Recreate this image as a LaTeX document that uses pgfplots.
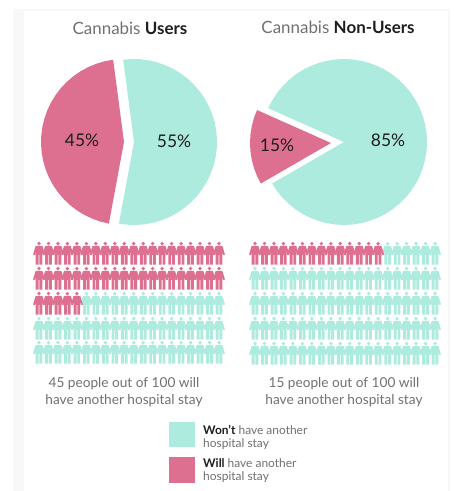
\documentclass[border=0pt]{standalone}
\usepackage{fontspec}
\setmainfont{Lato}
\usepackage{pgfplots}
\pgfplotsset{compat=1.18}
\definecolor{wont}{HTML}{AEEBDF}
\definecolor{will}{HTML}{DD7090}
\definecolor{caption}{HTML}{707070}
\definecolor{strong}{HTML}{1E1E1E}
\definecolor{edge}{HTML}{F8F8F8}

% Pictogram person: head, shoulders, arms and legs, about 12 by 23 units
\pgfdeclareplotmark{person}{%
  \pgfpathcircle{\pgfqpoint{0bp}{9.4bp}}{1.9bp}%
  \pgfpathmoveto{\pgfqpoint{-3.4bp}{7bp}}%
  \pgfpathlineto{\pgfqpoint{3.4bp}{7bp}}%
  \pgfpathlineto{\pgfqpoint{6bp}{-1.6bp}}%
  \pgfpathlineto{\pgfqpoint{4.2bp}{-2.1bp}}%
  \pgfpathlineto{\pgfqpoint{3.3bp}{1.5bp}}%
  \pgfpathlineto{\pgfqpoint{3.3bp}{-11.6bp}}%
  \pgfpathlineto{\pgfqpoint{0.4bp}{-11.6bp}}%
  \pgfpathlineto{\pgfqpoint{0.4bp}{-2bp}}%
  \pgfpathlineto{\pgfqpoint{-0.4bp}{-2bp}}%
  \pgfpathlineto{\pgfqpoint{-0.4bp}{-11.6bp}}%
  \pgfpathlineto{\pgfqpoint{-3.3bp}{-11.6bp}}%
  \pgfpathlineto{\pgfqpoint{-3.3bp}{1.5bp}}%
  \pgfpathlineto{\pgfqpoint{-4.2bp}{-2.1bp}}%
  \pgfpathlineto{\pgfqpoint{-6bp}{-1.6bp}}%
  \pgfpathclose
  \pgfusepathqfill
}
\pgfplotsset{
  people/.style={only marks, mark=person, color=#1, mark options={draw=none, fill=#1}},
  wedge/.style={fill=#1, draw=none, mark=none, data cs=polar},
}

\begin{document}
\begin{tikzpicture}
\begin{axis}[
  width=454bp, height=491bp, scale only axis,
  xmin=0, xmax=454, ymin=0, ymax=491,
  hide axis, clip=false,
]
% faint page edges
\addplot[fill=edge, draw=none, mark=none] coordinates {(13,0)(24,0)(24,481)(13,481)} --cycle;
\addplot[fill=edge, draw=none, mark=none] coordinates {(13,480)(449,480)(449,482)(13,482)} --cycle;
\addplot[fill=edge, draw=none, mark=none] coordinates {(448,0)(450,0)(450,482)(448,482)} --cycle;

% Cannabis users: 45 / 55, angle and radius about each wedge's own apex
\addplot[wedge=will, xshift=124bp, yshift=349bp] coordinates {
 (0,0)(97.5,83)(103.5,83)(109.5,83)(115.5,83)(121.5,83)(127.5,83)(133.5,83)(139.5,83)(145.5,83)
 (151.5,83)(157.5,83)(163.5,83)(169.5,83)(175.5,83)(181.5,83)(187.5,83)(193.5,83)(199.5,83)
 (205.5,83)(211.5,83)(217.5,83)(223.5,83)(229.5,83)(235.5,83)(241.5,83)(247.5,83)(253.5,83)(259.5,83)
} --cycle;
\addplot[wedge=wont, xshift=134bp, yshift=349bp] coordinates {
 (0,0)(-100.5,83)(-94.5,83)(-88.5,83)(-82.5,83)(-76.5,83)(-70.5,83)(-64.5,83)(-58.5,83)(-52.5,83)
 (-46.5,83)(-40.5,83)(-34.5,83)(-28.5,83)(-22.5,83)(-16.5,83)(-10.5,83)(-4.5,83)(1.5,83)(7.5,83)
 (13.5,83)(19.5,83)(25.5,83)(31.5,83)(37.5,83)(43.5,83)(49.5,83)(55.5,83)(61.5,83)(67.5,83)
 (73.5,83)(79.5,83)(85.5,83)(91.5,83)(97.5,83)
} --cycle;

% Cannabis non-users: 15 / 85
\addplot[wedge=will, xshift=331bp, yshift=348bp] coordinates {
 (0,0)(156,81)(162,81)(168,81)(174,81)(180,81)(186,81)(192,81)(198,81)(204,81)(210,81)
} --cycle;
\addplot[wedge=wont, xshift=344bp, yshift=349bp] coordinates {
 (0,0)(210,83)(216,83)(222,83)(228,83)(234,83)(240,83)(246,83)(252,83)(258,83)(264,83)(270,83)
 (276,83)(282,83)(288,83)(294,83)(300,83)(306,83)(312,83)(318,83)(324,83)(330,83)(336,83)
 (342,83)(348,83)(354,83)(360,83)(366,83)(372,83)(378,83)(384,83)(390,83)(396,83)(402,83)
 (408,83)(414,83)(420,83)(426,83)(432,83)(438,83)(444,83)(450,83)(456,83)(462,83)(468,83)
 (474,83)(480,83)(486,83)(492,83)(498,83)(504,83)(510,83)(516,83)
} --cycle;

% Users pictogram: 45 will, 55 won't
\addplot[people=wont] coordinates {
 (86.4,188)(95.8,188)(105.3,188)(114.8,188)(124.2,188)(133.7,188)(143.2,188)(152.6,188)(162.1,188)(171.6,188)(181.1,188)(190.5,188)(200,188)(209.5,188)(219,188)
 (39,163)(48.5,163)(58,163)(67.4,163)(76.9,163)(86.4,163)(95.8,163)(105.3,163)(114.8,163)(124.2,163)(133.7,163)(143.2,163)(152.6,163)(162.1,163)(171.6,163)(181.1,163)(190.5,163)(200,163)(209.5,163)(219,163)
 (39,139)(48.5,139)(58,139)(67.4,139)(76.9,139)(86.4,139)(95.8,139)(105.3,139)(114.8,139)(124.2,139)(133.7,139)(143.2,139)(152.6,139)(162.1,139)(171.6,139)(181.1,139)(190.5,139)(200,139)(209.5,139)(219,139)
};
\addplot[people=will] coordinates {
 (39,238)(48.5,238)(58,238)(67.4,238)(76.9,238)(86.4,238)(95.8,238)(105.3,238)(114.8,238)(124.2,238)(133.7,238)(143.2,238)(152.6,238)(162.1,238)(171.6,238)(181.1,238)(190.5,238)(200,238)(209.5,238)(219,238)
 (39,213)(48.5,213)(58,213)(67.4,213)(76.9,213)(86.4,213)(95.8,213)(105.3,213)(114.8,213)(124.2,213)(133.7,213)(143.2,213)(152.6,213)(162.1,213)(171.6,213)(181.1,213)(190.5,213)(200,213)(209.5,213)(219,213)
 (39,188)(48.5,188)(58,188)(67.4,188)(76.9,188)
};

% Non-users pictogram
\addplot[people=wont] coordinates {
 (387.6,238)(397.1,238)(406.5,238)(416,238)(425.5,238)(435,238)
 (255,213)(264.5,213)(274,213)(283.4,213)(292.9,213)(302.4,213)(311.8,213)(321.3,213)(330.8,213)(340.2,213)(349.7,213)(359.2,213)(368.6,213)(378.1,213)(387.6,213)(397.1,213)(406.5,213)(416,213)(425.5,213)(435,213)
 (255,188)(264.5,188)(274,188)(283.4,188)(292.9,188)(302.4,188)(311.8,188)(321.3,188)(330.8,188)(340.2,188)(349.7,188)(359.2,188)(368.6,188)(378.1,188)(387.6,188)(397.1,188)(406.5,188)(416,188)(425.5,188)(435,188)
 (255,163)(264.5,163)(274,163)(283.4,163)(292.9,163)(302.4,163)(311.8,163)(321.3,163)(330.8,163)(340.2,163)(349.7,163)(359.2,163)(368.6,163)(378.1,163)(387.6,163)(397.1,163)(406.5,163)(416,163)(425.5,163)(435,163)
 (255,138)(264.5,138)(274,138)(283.4,138)(292.9,138)(302.4,138)(311.8,138)(321.3,138)(330.8,138)(340.2,138)(349.7,138)(359.2,138)(368.6,138)(378.1,138)(387.6,138)(397.1,138)(406.5,138)(416,138)(425.5,138)(435,138)
};
\addplot[people=will] coordinates {
 (255,238)(264.5,238)(274,238)(283.4,238)(292.9,238)(302.4,238)(311.8,238)(321.3,238)(330.8,238)(340.2,238)(349.7,238)(359.2,238)(368.6,238)(378.1,238)
};

% Legend swatches
\addplot[fill=wont, draw=none, mark=none] coordinates {(169,69)(195,69)(195,44)(169,44)} --cycle;
\addplot[fill=will, draw=none, mark=none] coordinates {(169,34)(195,34)(195,8)(169,8)} --cycle;

% Titles
\node[font=\fontsize{17}{19}\selectfont, text=caption] at (axis cs:130,463) {Cannabis \textcolor{strong}{\textbf{Users}}};
\node[font=\fontsize{17}{19}\selectfont, text=caption] at (axis cs:338,464) {Cannabis \textcolor{strong}{\textbf{Non-Users}}};

% Wedge labels
\node[font=\fontsize{17.5}{19}\selectfont, text=strong] at (axis cs:82,351) {45\%};
\node[font=\fontsize{17.5}{19}\selectfont, text=strong] at (axis cs:174,350) {55\%};
\node[font=\fontsize{17.5}{19}\selectfont, text=strong] at (axis cs:277,346) {15\%};
\node[font=\fontsize{17.5}{19}\selectfont, text=strong] at (axis cs:388,351) {85\%};

% Captions under the pictograms
\node[font=\fontsize{13.7}{15}\selectfont, text=caption] at (axis cs:124,107) {45 people out of 100 will};
\node[font=\fontsize{13.7}{15}\selectfont, text=caption] at (axis cs:124,90) {have another hospital stay};
\node[font=\fontsize{13.7}{15}\selectfont, text=caption] at (axis cs:344,107) {15 people out of 100 will};
\node[font=\fontsize{13.7}{15}\selectfont, text=caption] at (axis cs:344,90) {have another hospital stay};

% Legend text
\node[anchor=west, inner sep=0pt, font=\fontsize{12}{14}\selectfont, text=caption] at (axis cs:203,61) {\textcolor{strong}{\textbf{Won't}} have another};
\node[anchor=west, inner sep=0pt, font=\fontsize{12}{14}\selectfont, text=caption] at (axis cs:203,47) {hospital stay};
\node[anchor=west, inner sep=0pt, font=\fontsize{12}{14}\selectfont, text=caption] at (axis cs:203,28) {\textcolor{strong}{\textbf{Will}} have another};
\node[anchor=west, inner sep=0pt, font=\fontsize{12}{14}\selectfont, text=caption] at (axis cs:203,14) {hospital stay};
\end{axis}
% page frame: the wedges' unshifted extents must not widen the page
\pgfresetboundingbox
\path[use as bounding box] (0,0) rectangle (454bp,491bp);
\end{tikzpicture}
\end{document}
